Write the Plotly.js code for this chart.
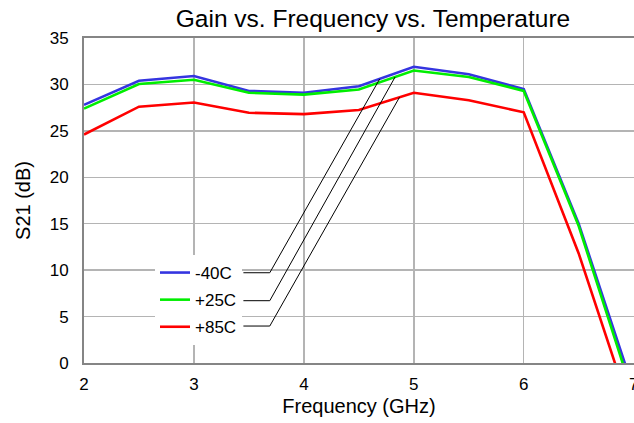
<!DOCTYPE html>
<html>
<head>
<meta charset="utf-8">
<script src="https://cdn.plot.ly/plotly-3.0.1.min.js"></script>
<style>html,body{margin:0;padding:0;background:#fff;}#chart{width:634px;height:423px;}</style>
</head>
<body>
<div id="chart"></div>
<script>
// Data
const freqGHz = [2, 2.5, 3, 3.5, 4, 4.5, 5, 5.5, 6, 6.5, 7];
const gainM40C = [27.8, 30.4, 30.9, 29.3, 29.1, 29.8, 31.9, 31.1, 29.5, 15.0, -2.9];
const gainP25C = [27.4, 30.05, 30.5, 29.1, 28.9, 29.45, 31.5, 30.8, 29.3, 14.75, -3.7];
const gainP85C = [24.6, 27.6, 28.05, 26.95, 26.8, 27.25, 29.1, 28.3, 27.0, 11.8, -6.1];
const seriesNames = ["-40C", "+25C", "+85C"];
const seriesColors = ["#3535e0", "#00ee00", "#ff0000"];
const xTicks = [2, 3, 4, 5, 6, 7];
const yTicks = [0, 5, 10, 15, 20, 25, 30, 35];

// leader-line anchors (legend side y, and x where each line meets its curve)
const leaderLegendY = [9.72, 6.71, 3.98];
const leaderStartX = 3.45, leaderBendX = 3.69;
const leaderEndX = [4.69, 4.83, 4.87];

function interp(xs, ys, x) {
  for (let i = 0; i < xs.length - 1; i++) {
    if (x >= xs[i] && x <= xs[i + 1]) {
      const t = (x - xs[i]) / (xs[i + 1] - xs[i]);
      return ys[i] + t * (ys[i + 1] - ys[i]);
    }
  }
  return ys[ys.length - 1];
}

const allSeries = [gainM40C, gainP25C, gainP85C];
const FONT = '"Liberation Sans", Arial, Helvetica, sans-serif';

const traces = allSeries.map((ys, i) => ({
  x: freqGHz, y: ys, type: 'scatter', mode: 'lines',
  name: seriesNames[i], legendgroup: 'g' + i,
  line: {color: seriesColors[i], width: 2.6}
}));

const shapes = allSeries.map((ys, i) => {
  const ex = leaderEndX[i];
  const ey = interp(freqGHz, ys, ex);
  return {
    type: 'path', xref: 'x', yref: 'y',
    path: `M${leaderStartX},${leaderLegendY[i]} L${leaderBendX},${leaderLegendY[i]} L${ex},${ey}`,
    line: {color: '#000', width: 1}
  };
});

const layout = {
  width: 634, height: 423,
  margin: {l: 84, r: 0, t: 38, b: 60},
  paper_bgcolor: '#fff', plot_bgcolor: '#fff',
  font: {family: FONT, color: '#000', size: 17},
  title: {text: 'Gain vs. Frequency vs. Temperature', font: {size: 24.5, family: FONT, color: '#000'},
          x: 373 / 634, xanchor: 'center', xref: 'container', y: 1 - 18 / 423, yanchor: 'middle'},
  xaxis: {
    range: [2, 7.003], tickvals: xTicks, ticktext: xTicks.map(String),
    showgrid: true, gridcolor: '#b4b4b4', gridwidth: 1.5,
    showline: true, linecolor: '#858585', linewidth: 2, mirror: true,
    zeroline: false, ticks: '', tickfont: {size: 17},
    ticklabelstandoff: 5, ticklabeloverflow: 'allow',
    title: {text: 'Frequency (GHz)', font: {size: 20}, standoff: 6}
  },
  yaxis: {
    range: [0, 35], tickvals: yTicks, ticktext: yTicks.map(String),
    showgrid: true, gridcolor: '#b4b4b4', gridwidth: 1.5,
    showline: true, linecolor: '#858585', linewidth: 2,
    zeroline: false, ticks: '', tickfont: {size: 17},
    ticklabelstandoff: 10,
    title: {text: 'S21 (dB)', font: {size: 20}, standoff: 14}
  },
  showlegend: true,
  legend: {
    x: (155 - 84) / 550, y: (363 - 255) / 325, xanchor: 'left', yanchor: 'top',
    bgcolor: '#fff', borderwidth: 0, font: {size: 17},
    traceorder: 'grouped', tracegroupgap: 2
  },
  shapes: shapes
};

Plotly.newPlot('chart', traces, layout, {staticPlot: true, displayModeBar: false});
</script>
</body>
</html>
